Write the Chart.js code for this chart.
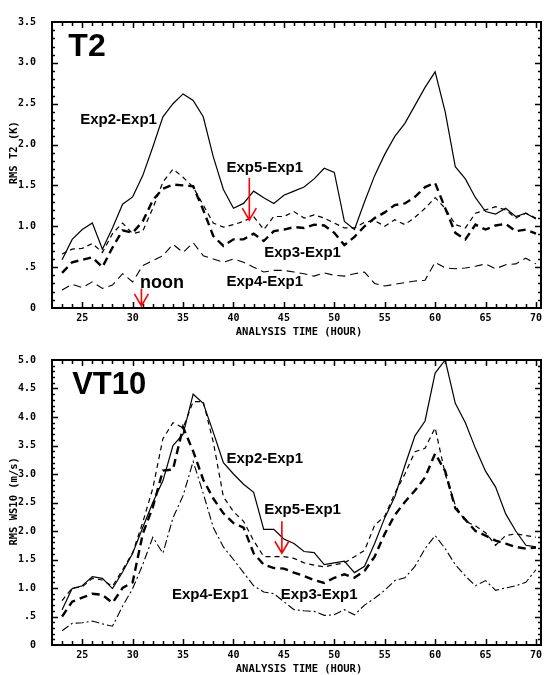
<!DOCTYPE html>
<html><head><meta charset="utf-8">
<script src="https://cdn.jsdelivr.net/npm/chart.js@4.4.1/dist/chart.umd.min.js"></script>
<style>
html,body{margin:0;padding:0;background:#fff;}
#wrap{position:relative;width:546px;height:675px;background:#fff;}
canvas{position:absolute;left:0;}
</style></head><body>
<div id="wrap">
<canvas id="c1" width="546" height="338" style="top:0px"></canvas>
<canvas id="c2" width="546" height="337" style="top:338px"></canvas>
</div>
<script>
// ---------- data ----------
const hours = [23,24,25,26,27,28,29,30,31,32,33,34,35,36,37,38,39,40,41,42,43,44,45,46,47,48,49,50,51,52,53,54,55,56,57,58,59,60,61,62,63,64,65,66,67,68,69,70];
const xTickVals = [25,30,35,40,45,50,55,60,65,70];
const t2TickVals = [0,0.5,1,1.5,2,2.5,3,3.5];
const vtTickVals = [0,0.5,1,1.5,2,2.5,3,3.5,4,4.5,5];
const seriesNames = ['Exp2-Exp1','Exp5-Exp1','Exp3-Exp1','Exp4-Exp1'];

// T2 panel (RMS T2, K)
const t2Exp2 = [0.59,0.84,0.96,1.04,0.72,0.98,1.27,1.36,1.62,1.97, 2.34,2.5,2.62,2.54,2.34,1.85,1.45,1.22,1.28,1.43, 1.35,1.28,1.38,1.43,1.48,1.58,1.71,1.66,1.06,0.96, 1.3,1.62,1.88,2.1,2.26,2.48,2.7,2.89,2.4,1.73, 1.58,1.35,1.18,1.15,1.22,1.12,1.16,1.09];
const t2Exp5 = [0.66,0.72,0.73,0.79,0.68,0.91,1.04,0.91,0.94,1.22, 1.54,1.7,1.6,1.48,1.26,1.04,0.99,1.02,1.06,1.12, 0.96,1.12,1.12,1.18,1.1,1.14,1.1,1.04,0.98,0.98, 1.05,1.07,1.0,1.08,1.02,1.11,1.22,1.35,1.22,1.02, 0.98,1.16,1.2,1.24,1.2,1.1,1.16,1.1];
const t2Exp3 = [0.43,0.56,0.59,0.62,0.5,0.74,0.95,0.92,1.06,1.32, 1.46,1.51,1.5,1.49,1.2,0.88,0.76,0.84,0.84,0.91, 0.82,0.94,0.96,0.99,0.98,1.02,1.01,0.92,0.77,0.87, 1.0,1.1,1.17,1.26,1.28,1.36,1.48,1.53,1.22,0.92, 0.84,1.02,0.96,1.01,1.03,0.94,0.96,0.91];
const t2Exp4 = [0.22,0.29,0.25,0.32,0.24,0.28,0.42,0.32,0.52,0.58, 0.64,0.78,0.68,0.8,0.64,0.6,0.56,0.6,0.56,0.5, 0.44,0.46,0.46,0.44,0.42,0.39,0.43,0.4,0.39,0.42, 0.44,0.3,0.27,0.29,0.31,0.33,0.34,0.56,0.49,0.48, 0.49,0.51,0.54,0.48,0.53,0.54,0.61,0.54];

// VT10 panel (RMS WS10, m/s)
const vtExp2 = [0.62,0.99,1.04,1.2,1.17,0.99,1.28,1.61,2.06,2.5, 2.88,3.5,3.7,4.4,4.24,3.73,3.2,3.0,2.82,2.68, 2.03,2.03,1.86,1.78,1.64,1.62,1.41,1.44,1.47,1.27, 1.38,1.78,2.23,2.6,3.15,3.67,3.93,4.77,5.0,4.24, 3.9,3.45,3.05,2.77,2.3,2.0,1.75,1.72];
const vtExp5 = [0.78,1.0,1.02,1.17,1.14,1.03,1.32,1.62,2.15,2.75, 3.62,3.9,3.81,4.27,4.27,3.56,2.6,2.34,2.17,1.83, 1.55,1.55,1.55,1.52,1.44,1.4,1.37,1.41,1.44,1.55, 1.66,2.1,2.26,2.66,3.0,3.39,3.45,3.81,3.0,2.45, 2.17,2.09,1.97,1.75,1.92,1.95,1.92,1.89];
const vtExp3 = [0.5,0.76,0.83,0.9,0.88,0.74,1.0,1.1,1.95,2.42, 3.06,3.08,3.82,3.4,2.9,2.57,2.31,2.14,2.06,1.61, 1.41,1.35,1.34,1.27,1.21,1.14,1.09,1.18,1.24,1.18, 1.3,1.55,1.95,2.28,2.51,2.71,2.94,3.36,3.05,2.4, 2.2,2.0,1.92,1.83,1.78,1.72,1.69,1.71];
const vtExp4 = [0.25,0.38,0.39,0.42,0.37,0.33,0.68,0.99,1.41,1.89, 1.61,2.23,2.62,3.22,2.66,2.06,1.72,1.5,1.27,1.04, 0.93,0.9,0.76,0.62,0.6,0.59,0.52,0.53,0.62,0.53, 0.7,0.82,0.96,1.13,1.18,1.38,1.69,1.92,1.69,1.41, 1.21,1.04,1.13,0.96,1.0,1.04,1.1,1.32];

// ---------- helpers ----------
const TICK_FONT = 'bold 10px "DejaVu Sans Mono", monospace';
const TITLE_FONT = 'bold 10.5px "DejaVu Sans Mono", monospace';
const LBL_FONT = 'bold 15px "Liberation Sans", Arial, sans-serif';

function fmtY(v){ if (v === 0) return '0'; if (v === 0.5) return '.5'; return v.toFixed(1); }

function ds(label, arr, width, dash){
  return { label, data: hours.map((h,i)=>({x:h, y:arr[i]})), borderColor:'#000', borderWidth:width,
    borderDash:dash, pointRadius:0, fill:false, tension:0 };
}

const decor = {
  id:'decor',
  afterDraw(chart, args, o){
    const ctx = chart.ctx, a = chart.chartArea, xs = chart.scales.x, ys = chart.scales.y;
    ctx.save();
    // frame
    ctx.strokeStyle='#000'; ctx.lineWidth=2;
    ctx.strokeRect(a.left, a.top, a.right-a.left, a.bottom-a.top);
    // x ticks (inward, bottom and top)
    ctx.lineWidth=1.5;
    ctx.beginPath();
    for (let h=23; h<=70; h++){
      const px = Math.round(xs.getPixelForValue(h))+0.5;
      const L = (h%5===0)?6:4;
      ctx.moveTo(px,a.bottom); ctx.lineTo(px,a.bottom-L);
      ctx.moveTo(px,a.top); ctx.lineTo(px,a.top+L);
    }
    // y ticks (inward, left and right)
    const n = Math.round(o.yMax*10);
    for (let k=1; k<n; k++){
      const v = k/10;
      const py = Math.round(ys.getPixelForValue(v))+0.5;
      const L = (k%5===0)?6:3;
      ctx.moveTo(a.left,py); ctx.lineTo(a.left+L,py);
      ctx.moveTo(a.right,py); ctx.lineTo(a.right-L,py);
    }
    ctx.stroke();
    // axis titles
    ctx.fillStyle='#000';
    ctx.font = TITLE_FONT; ctx.textAlign='center'; ctx.textBaseline='middle';
    ctx.fillText('ANALYSIS TIME (HOUR)', xs.getPixelForValue(46.5), a.bottom+24);
    ctx.save();
    ctx.translate(14, ys.getPixelForValue(o.yTitleAt));
    ctx.rotate(-Math.PI/2);
    ctx.fillText(o.yTitle, 0, 0);
    ctx.restore();
    // labels
    ctx.textAlign='left'; ctx.textBaseline='alphabetic';
    for (const t of o.texts){
      ctx.font = t.font || LBL_FONT;
      ctx.fillText(t.t, xs.getPixelForValue(t.x), ys.getPixelForValue(t.y));
    }
    // red arrows
    ctx.strokeStyle='#ff0000'; ctx.lineWidth=1.6;
    for (const ar of o.arrows){
      const x = xs.getPixelForValue(ar.x), y1 = ys.getPixelForValue(ar.y1), y2 = ys.getPixelForValue(ar.y2);
      ctx.beginPath();
      ctx.moveTo(x,y1); ctx.lineTo(x,y2);
      ctx.moveTo(x-7,y2-12); ctx.lineTo(x,y2); ctx.lineTo(x+7,y2-12);
      ctx.stroke();
    }
    ctx.restore();
  }
};

function makeChart(id, datasets, yMax, yTicks, xHeight, opts){
  return new Chart(document.getElementById(id), {
    type:'line',
    data:{ datasets },
    options:{
      responsive:false, animation:false, devicePixelRatio:1,
      layout:{ padding:{ top:opts.padTop, right:3, left:0, bottom:0 } },
      plugins:{ legend:{display:false}, tooltip:{enabled:false}, decor:opts },
      scales:{
        x:{ type:'linear', min:22, max:70.5, position:'bottom',
            grid:{display:false, drawTicks:false}, border:{display:false},
            ticks:{ font:{family:'"DejaVu Sans Mono", monospace', size:10, weight:'bold'}, color:'#000',
                    padding:4, maxRotation:0, autoSkip:false, callback:v=>String(v) },
            afterBuildTicks:s=>{ s.ticks = xTickVals.map(v=>({value:v})); },
            afterFit:s=>{ s.height = xHeight; } },
        y:{ type:'linear', min:0, max:yMax,
            grid:{display:false, drawTicks:false}, border:{display:false},
            ticks:{ font:{family:'"DejaVu Sans Mono", monospace', size:10, weight:'bold'}, color:'#000',
                    padding:16, autoSkip:false, callback:v=>fmtY(v) },
            afterBuildTicks:s=>{ s.ticks = yTicks.map(v=>({value:v})); },
            afterFit:s=>{ s.width = 52; } }
      }
    },
    plugins:[decor]
  });
}

makeChart('c1', [
  ds(seriesNames[0], t2Exp2, 1.2, []),
  ds(seriesNames[1], t2Exp5, 1.2, [5,4]),
  ds(seriesNames[2], t2Exp3, 2.4, [8,5]),
  ds(seriesNames[3], t2Exp4, 1.1, [8,5])
], 3.5, t2TickVals, 30, {
  padTop:15, yMax:3.5, yTitle:'RMS T2 (K)', yTitleAt:1.9,
  texts:[
    {t:'T2', x:23.62, y:3.08, font:'bold 32px "Liberation Sans", Arial, sans-serif'},
    {t:'Exp2-Exp1', x:24.8, y:2.25},
    {t:'Exp5-Exp1', x:39.3, y:1.67},
    {t:'Exp3-Exp1', x:43.05, y:0.63},
    {t:'Exp4-Exp1', x:39.3, y:0.275},
    {t:'noon', x:30.72, y:0.25, font:'bold 18px "Liberation Sans", Arial, sans-serif'}
  ],
  arrows:[ {x:41.57, y1:1.59, y2:1.075}, {x:30.87, y1:0.24, y2:0.025} ]
});

makeChart('c2', [
  ds(seriesNames[0], vtExp2, 1.2, []),
  ds(seriesNames[1], vtExp5, 1.2, [5,4]),
  ds(seriesNames[2], vtExp3, 2.4, [8,5]),
  ds(seriesNames[3], vtExp4, 1.1, [8,3,2,3])
], 5, vtTickVals, 30, {
  padTop:12, yMax:5, yTitle:'RMS WS10 (m/s)', yTitleAt:2.52,
  texts:[
    {t:'VT10', x:24.0, y:4.41, font:'bold 31px "Liberation Sans", Arial, sans-serif'},
    {t:'Exp2-Exp1', x:39.3, y:3.19},
    {t:'Exp5-Exp1', x:43.05, y:2.29},
    {t:'Exp3-Exp1', x:44.7, y:0.81},
    {t:'Exp4-Exp1', x:33.9, y:0.8}
  ],
  arrows:[ {x:44.8, y1:2.17, y2:1.61} ]
});
</script>
</body></html>
